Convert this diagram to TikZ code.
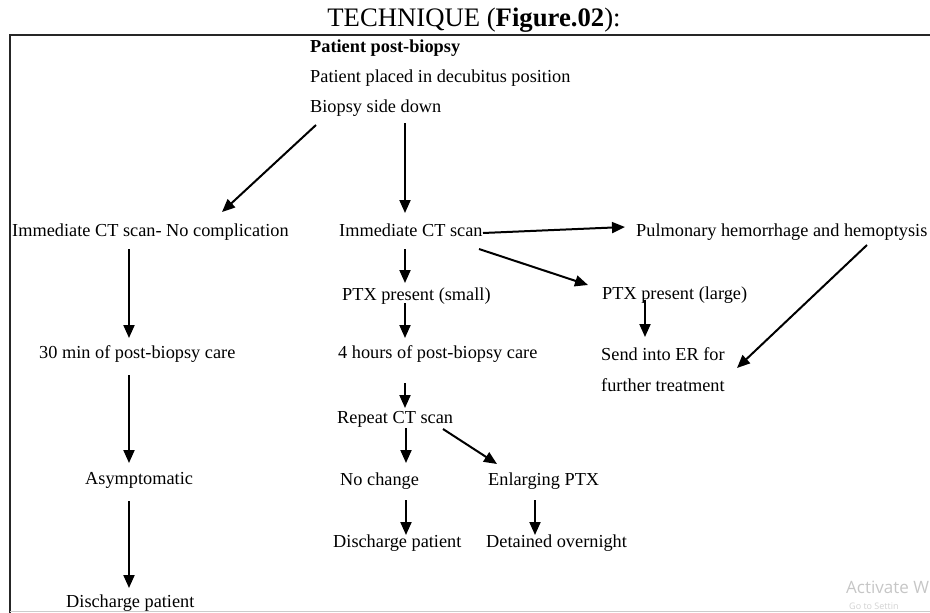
\documentclass[tikz,border=0pt]{standalone}
\usepackage{fontspec}
\setmainfont{Liberation Serif}
\newfontfamily\wmfont{Open Sans}
\usetikzlibrary{arrows.meta,calc}
\begin{document}
\begin{tikzpicture}[x=1pt,y=-1pt,
  lbl/.style={anchor=base west,inner sep=0pt,font=\fontsize{18.3}{22}\selectfont},
  arr/.style={line width=2pt,-{Triangle[length=13pt,width=11pt]}},
  frame/.style={line width=2.4pt,black!85}]
\useasboundingbox (0,0) rectangle (930,613);
\clip (0,0) rectangle (930,613);
% title
\node[anchor=base,inner sep=0pt,font=\fontsize{26.7}{30}\selectfont] (title) at (474,27) {TECHNIQUE (\textbf{Figure.02}):};
% frame
\draw[frame] (10,614) -- (10,35) -- (932,35);
\draw[gray!40,line width=1.2pt] (10,611.5) -- (932,611.5);
% nodes
\node[lbl] (t1) at (310,52) {\textbf{Patient post-biopsy}};
\node[lbl] (t2) at (310,82) {Patient placed in decubitus position};
\node[lbl] (t3) at (310,112) {Biopsy side down};
\node[lbl] (ctL) at (12,236) {Immediate CT scan- No complication};
\node[lbl] (ctM) at (339,236) {Immediate CT scan};
\node[lbl] (pul) at (636,236) {Pulmonary hemorrhage and hemoptysis};
\node[lbl] (small) at (342,300) {PTX present (small)};
\node[lbl] (large) at (602,299) {PTX present (large)};
\node[lbl] (thirty) at (39,358) {30 min of post-biopsy care};
\node[lbl] (four) at (338,358) {4 hours of post-biopsy care};
\node[lbl] (er) at (601,360) {Send into ER for};
\node[lbl] (er2) at (601,391) {further treatment};
\node[lbl] (rep) at (337,423) {Repeat CT scan};
\node[lbl] (asym) at (85,484) {Asymptomatic};
\node[lbl] (noch) at (340,485) {No change};
\node[lbl] (enl) at (488,485) {Enlarging PTX};
\node[lbl] (disM) at (333,547) {Discharge patient};
\node[lbl] (det) at (486,547) {Detained overnight};
\node[lbl] (disL) at (66,607) {Discharge patient};
% watermark
\node[anchor=base west,inner sep=0pt,text=gray!45,font=\wmfont\fontsize{17}{20}\selectfont] (wm1) at (846,593) {Activate W};
\node[anchor=base west,inner sep=0pt,text=gray!35,font=\wmfont\fontsize{9}{11}\selectfont] (wm2) at (849,609) {Go to Settin};
% connectors
\draw[arr] ($(t3.base west)+(6,13)$) -- ($(ctL.base west)+(210,-24)$);
\draw[arr] ($(t3.base west)+(95,11)$) -- ($(ctM.base west)+(66,-23)$);
\draw[arr] ($(ctM.base west)+(144,-3)$) -- ($(pul.base west)+(-11,-9)$);
\draw[arr] ($(ctM.base west)+(140,13)$) -- ($(large.base west)+(-14,-14)$);
\draw[arr] ($(ctM.base west)+(66,13)$) -- ($(small.base west)+(63,-17)$);
\draw[arr] ($(small.base west)+(63,3)$) -- ($(four.base west)+(67,-20)$);
\draw[arr] ($(four.base west)+(67,25)$) -- ($(rep.base west)+(68,-15)$);
\draw[arr] ($(rep.base west)+(69,5)$) -- ($(noch.base west)+(66,-22)$);
\draw[arr] ($(rep.base west)+(106,6)$) -- ($(enl.base west)+(9,-21)$);
\draw[arr] ($(noch.base west)+(66,15)$) -- ($(disM.base west)+(73,-12)$);
\draw[arr] ($(enl.base west)+(47,15)$) -- ($(det.base west)+(49,-12)$);
\draw[arr] ($(large.base west)+(43,1)$) -- ($(er.base west)+(44,-23)$);
\draw[arr] ($(pul.base west)+(231,9)$) -- ($(er.base west)+(136,8)$);
\draw[arr] ($(ctL.base west)+(117,13)$) -- ($(thirty.base west)+(90,-20)$);
\draw[arr] ($(thirty.base west)+(90,17)$) -- ($(asym.base west)+(44,-21)$);
\draw[arr] ($(asym.base west)+(44,17)$) -- ($(disL.base west)+(63,-19)$);
\end{tikzpicture}
\end{document}
